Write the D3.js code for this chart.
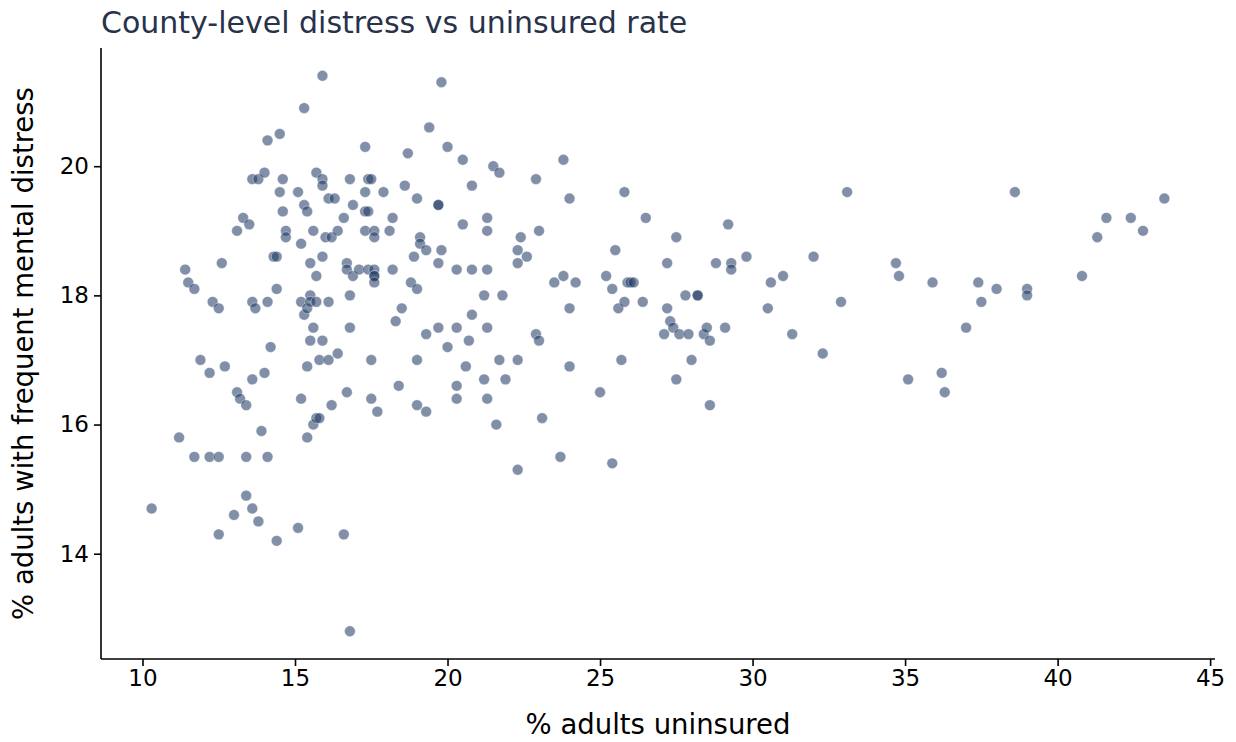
<!DOCTYPE html>
<html>
<head>
<meta charset="utf-8">
<script src="https://cdn.jsdelivr.net/npm/d3@7"></script>
<style>
  body { margin: 0; background: #fff; }
  svg text { font-family: "DejaVu Sans", sans-serif; }
</style>
</head>
<body>
<div class="main"></div>
<script>
// % adults uninsured (x) and % adults with frequent mental distress (y), one entry per county
const uninsured = [
  10.3, 11.2, 11.4, 11.5, 11.7, 11.7, 11.9, 12.2, 12.2, 12.3, 12.5, 12.5, 12.5, 12.6, 12.7, 13.0,
  13.1, 13.1, 13.2, 13.3, 13.4, 13.4, 13.4, 13.5, 13.6, 13.6, 13.6, 13.6, 13.7, 13.8, 13.8, 13.9,
  14.0, 14.0, 14.1, 14.1, 14.1, 14.2, 14.3, 14.4, 14.4, 14.4, 14.5, 14.5, 14.6, 14.6, 14.7, 14.7,
  15.1, 15.1, 15.2, 15.2, 15.2, 15.3, 15.3, 15.3, 15.4, 15.4, 15.4, 15.4, 15.5, 15.5, 15.5, 15.5,
  15.6, 15.6, 15.6, 15.7, 15.7, 15.7, 15.7, 15.8, 15.8, 15.9, 15.9, 15.9, 15.9, 15.9, 16.0, 16.1,
  16.1, 16.1, 16.2, 16.2, 16.3, 16.4, 16.4, 16.6, 16.6, 16.7, 16.7, 16.7, 16.8, 16.8, 16.8, 16.8,
  16.9, 16.9, 17.1, 17.3, 17.3, 17.3, 17.3, 17.4, 17.4, 17.4, 17.5, 17.5, 17.5, 17.6, 17.6, 17.6,
  17.6, 17.6, 17.6, 17.7, 17.9, 18.1, 18.2, 18.2, 18.3, 18.4, 18.5, 18.6, 18.7, 18.8, 18.9, 19.0,
  19.0, 19.0, 19.0, 19.1, 19.1, 19.3, 19.3, 19.3, 19.4, 19.7, 19.7, 19.7, 19.7, 19.8, 19.8, 20.0,
  20.0, 20.3, 20.3, 20.3, 20.3, 20.5, 20.5, 20.6, 20.7, 20.8, 20.8, 20.8, 21.2, 21.2, 21.3, 21.3,
  21.3, 21.3, 21.3, 21.5, 21.6, 21.7, 21.7, 21.8, 21.9, 22.3, 22.3, 22.3, 22.3, 22.4, 22.6, 22.9,
  22.9, 23.0, 23.0, 23.1, 23.5, 23.7, 23.8, 23.8, 24.0, 24.0, 24.0, 24.2, 25.0, 25.2, 25.4, 25.4,
  25.5, 25.6, 25.7, 25.8, 25.8, 25.9, 26.0, 26.1, 26.4, 26.5, 27.1, 27.2, 27.2, 27.3, 27.4, 27.5,
  27.5, 27.6, 27.8, 27.9, 28.0, 28.2, 28.2, 28.4, 28.5, 28.6, 28.6, 28.8, 29.1, 29.2, 29.3, 29.3,
  29.8, 30.5, 30.6, 31.0, 31.3, 32.0, 32.3, 32.9, 33.1, 34.7, 34.8, 35.1, 35.9, 36.2, 36.3, 37.0,
  37.4, 37.5, 38.0, 38.6, 39.0, 39.0, 40.8, 41.3, 41.6, 42.4, 42.8, 43.5
];
const distress = [
  14.7, 15.8, 18.4, 18.2, 18.1, 15.5, 17.0, 16.8, 15.5, 17.9, 17.8, 15.5, 14.3, 18.5, 16.9, 14.6,
  19.0, 16.5, 16.4, 19.2, 16.3, 15.5, 14.9, 19.1, 17.9, 16.7, 14.7, 19.8, 17.8, 14.5, 19.8, 15.9,
  19.9, 16.8, 20.4, 17.9, 15.5, 17.2, 18.6, 18.6, 18.1, 14.2, 20.5, 19.6, 19.8, 19.3, 19.0, 18.9,
  19.6, 14.4, 18.8, 17.9, 16.4, 20.9, 19.4, 17.7, 19.3, 17.8, 16.9, 15.8, 18.5, 18.0, 17.9, 17.3,
  19.0, 17.5, 16.0, 19.9, 18.3, 17.9, 16.1, 17.0, 16.1, 21.4, 19.8, 19.7, 18.6, 17.3, 18.9, 19.5,
  17.9, 17.0, 18.9, 16.3, 19.5, 19.0, 17.1, 19.2, 14.3, 18.5, 18.4, 16.5, 19.8, 18.0, 17.5, 12.8,
  19.4, 18.3, 18.4, 20.3, 19.6, 19.3, 19.0, 19.8, 19.3, 18.4, 19.8, 17.0, 16.4, 19.0, 18.9, 18.4,
  18.3, 18.3, 18.2, 16.2, 19.6, 19.0, 19.2, 18.4, 17.6, 16.6, 17.8, 19.7, 20.2, 18.2, 18.6, 19.5,
  18.1, 17.0, 16.3, 18.9, 18.8, 18.7, 17.4, 16.2, 20.6, 19.4, 19.4, 18.5, 17.5, 21.3, 18.7, 20.3,
  17.2, 18.4, 17.5, 16.6, 16.4, 20.1, 19.1, 16.9, 17.3, 19.7, 18.4, 17.7, 18.0, 16.7, 19.2, 19.0,
  18.4, 17.5, 16.4, 20.0, 16.0, 19.9, 17.0, 18.0, 16.7, 18.7, 18.5, 17.0, 15.3, 18.9, 18.6, 19.8,
  17.4, 19.0, 17.3, 16.1, 18.2, 15.5, 20.1, 18.3, 19.5, 17.8, 16.9, 18.2, 16.5, 18.3, 18.1, 15.4,
  18.7, 17.8, 17.0, 19.6, 17.9, 18.2, 18.2, 18.2, 17.9, 19.2, 17.4, 18.5, 17.8, 17.6, 17.5, 18.9,
  16.7, 17.4, 18.0, 17.4, 17.0, 18.0, 18.0, 17.4, 17.5, 17.3, 16.3, 18.5, 17.5, 19.1, 18.5, 18.4,
  18.6, 17.8, 18.2, 18.3, 17.4, 18.6, 17.1, 17.9, 19.6, 18.5, 18.3, 16.7, 18.2, 16.8, 16.5, 17.5,
  18.2, 17.9, 18.1, 19.6, 18.1, 18.0, 18.3, 18.9, 19.2, 19.2, 19.0, 19.5
];
const xTicks = [10, 15, 20, 25, 30, 35, 40, 45];
const yTicks = [14, 16, 18, 20];

const points = uninsured.map(function(u, i) { return { x: u, y: distress[i] }; });

const W = 1236, H = 742;
const plot = { left: 101, right: 1215, top: 48, bottom: 659 };

// matplotlib style 5% padding around the data
function padded(values) {
  const lo = d3.min(values), hi = d3.max(values), pad = (hi - lo) * 0.05;
  return [lo - pad, hi + pad];
}

const xScale = d3.scaleLinear().domain(padded(uninsured)).range([plot.left, plot.right]);
const yScale = d3.scaleLinear().domain(padded(distress)).range([plot.bottom, plot.top]);

const svg = d3.select('.main').append('svg')
    .attr('width', W)
    .attr('height', H)
    .attr('viewBox', '0 0 ' + W + ' ' + H);

// points
svg.append('g').selectAll('circle').data(points).enter().append('circle')
    .attr('cx', function(d) { return xScale(d.x); })
    .attr('cy', function(d) { return yScale(d.y); })
    .attr('r', 5.4)
    .attr('fill', '#1e3963')
    .attr('fill-opacity', 0.56)
    .attr('stroke', '#ffffff')
    .attr('stroke-opacity', 0.6)
    .attr('stroke-width', 0.6);

// axes
const xAxis = d3.axisBottom(xScale).tickValues(xTicks).tickSize(7).tickPadding(4).tickFormat(d3.format('d'));
const yAxis = d3.axisLeft(yScale).tickValues(yTicks).tickSize(7).tickPadding(5).tickFormat(d3.format('d'));

const gx = svg.append('g')
    .attr('transform', 'translate(0,' + plot.bottom + ')')
    .call(xAxis);
const gy = svg.append('g')
    .attr('transform', 'translate(' + plot.left + ',0)')
    .call(yAxis);

[gx, gy].forEach(function(g) {
  g.select('.domain').attr('stroke', '#000').attr('stroke-width', 1.6)
      .attr('d', g === gx
        ? 'M' + plot.left + ',0H' + plot.right
        : 'M0,' + plot.bottom + 'V' + plot.top);
  g.selectAll('.tick line').attr('stroke', '#000').attr('stroke-width', 1.6);
  g.selectAll('.tick text')
      .attr('fill', '#000')
      .style('font-size', '23px')
      .style('font-family', '"DejaVu Sans", sans-serif');
});

// title and axis labels
svg.append('text')
    .attr('x', plot.left)
    .attr('y', 33)
    .attr('fill', '#28324a')
    .style('font-size', '30px')
    .text('County-level distress vs uninsured rate');

svg.append('text')
    .attr('x', (plot.left + plot.right) / 2)
    .attr('y', 734)
    .attr('text-anchor', 'middle')
    .attr('fill', '#000')
    .style('font-size', '27.5px')
    .text('% adults uninsured');

svg.append('text')
    .attr('transform', 'translate(33,' + (plot.top + plot.bottom) / 2 + ') rotate(-90)')
    .attr('text-anchor', 'middle')
    .attr('fill', '#000')
    .style('font-size', '27.5px')
    .text('% adults with frequent mental distress');
</script>
</body>
</html>
